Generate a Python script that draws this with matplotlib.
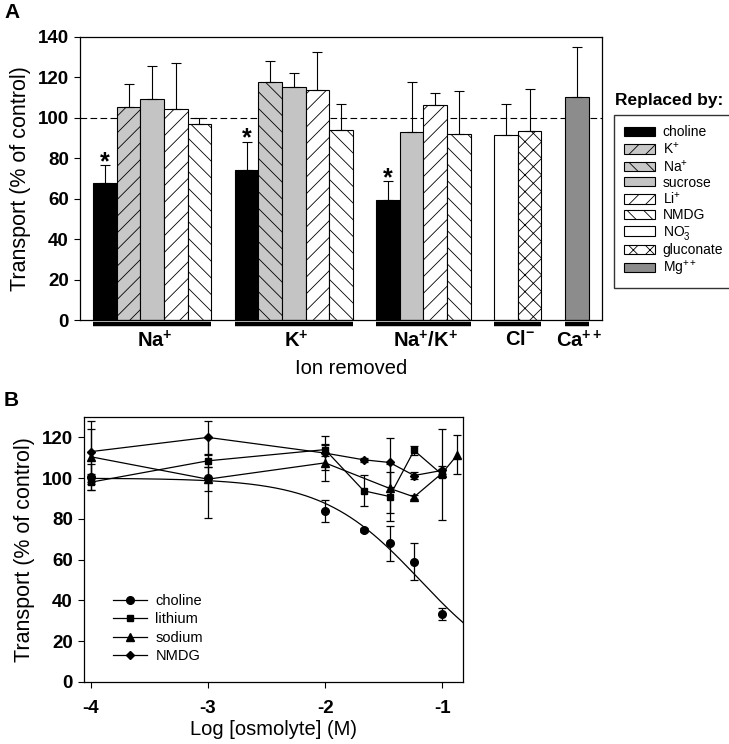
import numpy as np
import matplotlib
matplotlib.use('Agg')
import matplotlib.pyplot as plt
from matplotlib.patches import Patch
from matplotlib.lines import Line2D

plt.rcParams['font.family'] = 'Liberation Sans'
plt.rcParams['mathtext.fontset'] = 'custom'
plt.rcParams['mathtext.rm'] = 'Liberation Sans'
plt.rcParams['mathtext.bf'] = 'Liberation Sans:bold'
plt.rcParams['hatch.linewidth'] = 0.6

# =============================================================================
# DATA — panel A (bars)
# =============================================================================

ion_labels = [r'$\mathbf{Na}^{\mathbf{+}}$', r'$\mathbf{K}^{\mathbf{+}}$',
              r'$\mathbf{Na}^{\mathbf{+}}\mathbf{/K}^{\mathbf{+}}$',
              r'$\mathbf{Cl}^{\mathbf{-}}$', r'$\mathbf{Ca}^{\mathbf{++}}$']

na_repl = ['choline', 'K', 'sucrose', 'Li', 'NMDG']
na_vals = [67.8, 105.1, 109.0, 104.4, 97.0]
na_errs = [8.6, 11.7, 16.6, 22.4, 3.0]

k_repl = ['choline', 'Na', 'sucrose', 'Li', 'NMDG']
k_vals = [74.3, 117.6, 115.3, 113.8, 94.0]
k_errs = [13.8, 10.2, 6.9, 18.8, 12.6]

nak_repl = ['choline', 'sucrose', 'Li', 'NMDG']
nak_vals = [59.1, 93.0, 106.4, 92.1]
nak_errs = [9.7, 24.4, 5.9, 20.9]

cl_repl = ['NO3', 'gluconate']
cl_vals = [91.2, 93.5]
cl_errs = [15.7, 20.5]

ca_repl = ['Mg']
ca_vals = [110.0]
ca_errs = [24.9]

significant = ['choline']   # starred replacements

legend_order = ['choline', 'K', 'Na', 'sucrose', 'Li', 'NMDG', 'NO3', 'gluconate', 'Mg']
legend_text = ['choline', r'K$^{+}$', r'Na$^{+}$', 'sucrose', r'Li$^{+}$', 'NMDG',
               r'NO$_3^{-}$', 'gluconate', r'Mg$^{++}$']

# =============================================================================
# DATA — panel B (dose response)
# =============================================================================

choline_x = [-4, -3, -2, -1.67, -1.45, -1.24, -1.0]
choline_y = [100.5, 100.0, 84.0, 74.5, 68.0, 59.0, 33.5]
choline_e = [6.5, 19.5, 5.5, 1.0, 8.5, 9.0, 3.0]

lithium_x = [-4, -3, -2, -1.67, -1.45, -1.24, -1.0]
lithium_y = [98.0, 108.5, 114.0, 93.8, 91.0, 113.6, 101.7]
lithium_e = [4.0, 3.0, 3.0, 7.7, 12.0, 2.0, 22.4]

sodium_x = [-4, -3, -2, -1.45, -1.24, -1.0, -0.87]
sodium_y = [110.5, 99.5, 107.5, 95.0, 90.8, 102.5, 111.5]
sodium_e = [13.5, 6.0, 9.0, 12.0, 1.0, 2.0, 9.6]

nmdg_x = [-4, -3, -2, -1.67, -1.45, -1.24, -1.0]
nmdg_y = [113.0, 120.0, 112.3, 109.0, 107.7, 101.3, 103.8]
nmdg_e = [15.0, 8.0, 8.5, 1.0, 12.0, 1.5, 2.0]

# logistic fit through the choline points
fit_top = 100.0
fit_logic50 = -1.19
fit_hill = 1.05

# =============================================================================
# STYLES
# =============================================================================

STYLE = {
    'choline':   dict(facecolor='black',   hatch=None),
    'K':         dict(facecolor='#c8c8c8', hatch='//'),
    'Na':        dict(facecolor='#c8c8c8', hatch='\\\\'),
    'sucrose':   dict(facecolor='#c4c4c4', hatch=None),
    'Li':        dict(facecolor='white',   hatch='//'),
    'NMDG':      dict(facecolor='white',   hatch='\\\\'),
    'NO3':       dict(facecolor='white',   hatch=None),
    'gluconate': dict(facecolor='white',   hatch='xx'),
    'Mg':        dict(facecolor='#8c8c8c', hatch=None),
}

W, H = 729, 744
fig = plt.figure(figsize=(W / 100, H / 100), dpi=100)

# =============================================================================
# PANEL A
# =============================================================================

ax = fig.add_axes([80 / W, 1 - 320 / H, 522 / W, 283.3 / H])

groups = [(na_repl, na_vals, na_errs), (k_repl, k_vals, k_errs),
          (nak_repl, nak_vals, nak_errs), (cl_repl, cl_vals, cl_errs),
          (ca_repl, ca_vals, ca_errs)]

pos = 0
for label, (repl, vals, errs) in zip(ion_labels, groups):
    xs = np.arange(pos, pos + len(repl))
    for x, r, v, e in zip(xs, repl, vals, errs):
        st = STYLE[r]
        ax.bar(x, v, width=1.0, color=st['facecolor'], edgecolor='black',
               hatch=st['hatch'], linewidth=0.8, zorder=2)
        ax.errorbar(x, v, yerr=[[0], [e]], fmt='none', ecolor='black',
                    elinewidth=0.8, capsize=3.3, capthick=0.8, zorder=3)
        if r in significant:
            ax.text(x, v + e - 2.0, '*', ha='center', va='baseline',
                    fontsize=18, fontweight='bold')
    ax.plot([xs[0] - 0.5, xs[-1] + 0.5], [-2.1, -2.1], color='black', lw=3.2,
            solid_capstyle='butt', clip_on=False)
    ax.text(xs.mean() + 0.1, -5.0, label, ha='center', va='top', fontsize=14.5)
    pos = xs[-1] + 2

ax.axhline(100, color='black', lw=0.8, ls=(0, (6, 3)), zorder=1)
ax.set_xlim(-1.06, 21.07)
ax.set_ylim(0, 140)
ax.set_yticks(np.arange(0, 141, 20))
ax.set_xticks([])
ax.tick_params(axis='y', direction='out', length=4, width=0.8, labelsize=13.5, pad=4)
for t in ax.get_yticklabels():
    t.set_fontweight('bold')
for s in ax.spines.values():
    s.set_linewidth(0.9)
ax.set_ylabel('Transport (% of control)', fontsize=15.5, labelpad=5)
fig.text(351 / W, 1 - 369 / H, 'Ion removed', ha='center', va='center', fontsize=14.5)
fig.text(4 / W, 1 - 13 / H, 'A', ha='left', va='center', fontsize=15, fontweight='bold')

handles = [Patch(facecolor=STYLE[r]['facecolor'], edgecolor='black',
                 hatch=STYLE[r]['hatch'], linewidth=0.8) for r in legend_order]
fig.legend(handles, legend_text, loc='upper left',
           bbox_to_anchor=(614 / W, 1 - 115 / H), bbox_transform=fig.transFigure,
           fontsize=10, frameon=True, fancybox=False, edgecolor='black',
           handlelength=2.2, handleheight=0.65, handletextpad=0.55,
           labelspacing=0.1, borderpad=0.75, borderaxespad=0)
fig.text(615 / W, 1 - 101 / H, 'Replaced by:', ha='left', va='center',
         fontsize=12.5, fontweight='bold')

# =============================================================================
# PANEL B
# =============================================================================

bx = fig.add_axes([84 / W, 1 - 682 / H, 379 / W, 265 / H])

ERR_KW = dict(ecolor='black', elinewidth=0.9, capsize=3.0, capthick=0.9)
bx.errorbar(choline_x, choline_y, yerr=choline_e, fmt='o', color='black',
            ms=5.5, ls='none', **ERR_KW)
bx.errorbar(lithium_x, lithium_y, yerr=lithium_e, fmt='s-', color='black',
            ms=5, lw=0.9, **ERR_KW)
bx.errorbar(sodium_x, sodium_y, yerr=sodium_e, fmt='^-', color='black',
            ms=5.5, lw=0.9, **ERR_KW)
bx.errorbar(nmdg_x, nmdg_y, yerr=nmdg_e, fmt='D-', color='black',
            ms=4.5, lw=0.9, **ERR_KW)

xlim_b = (-4.057, -0.823)
xc = np.linspace(choline_x[0], xlim_b[1], 200)
bx.plot(xc, fit_top / (1 + 10 ** ((xc - fit_logic50) * fit_hill)), color='black', lw=0.9)

bx.set_xlim(*xlim_b)
bx.set_ylim(0, 130)
bx.set_xticks([-4, -3, -2, -1])
bx.set_xticklabels(['-4', '-3', '-2', '-1'])
bx.set_yticks(np.arange(0, 121, 20))
bx.tick_params(direction='out', length=4, width=0.8, labelsize=13.5)
bx.tick_params(axis='x', pad=9)
bx.tick_params(axis='y', pad=4)
for t in bx.get_xticklabels() + bx.get_yticklabels():
    t.set_fontweight('bold')
for s in bx.spines.values():
    s.set_linewidth(0.9)
bx.set_ylabel('Transport (% of control)', fontsize=15.5, labelpad=5)
bx.set_xlabel('Log [osmolyte] (M)', fontsize=14.5, labelpad=2)

leg_h = [Line2D([], [], color='black', lw=0.9, marker=m, ms=s)
         for m, s in zip(['o', 's', '^', 'D'], [5.5, 5, 5.5, 4.5])]
bx.legend(leg_h, ['choline', 'lithium', 'sodium', 'NMDG'], loc='upper left',
          bbox_to_anchor=(29 / 379, 88 / 265), frameon=False, fontsize=10.5,
          handlelength=2.35, handletextpad=0.55, labelspacing=0.3,
          borderpad=0, borderaxespad=0)
fig.text(4 / W, 1 - 401 / H, 'B', ha='left', va='center', fontsize=15, fontweight='bold')

fig.savefig('out.png', dpi=100)
